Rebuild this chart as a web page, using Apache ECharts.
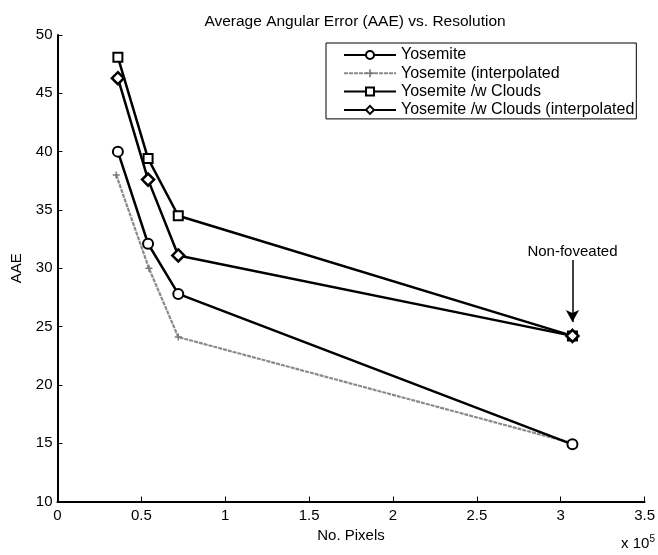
<!DOCTYPE html>
<html>
<head>
<meta charset="utf-8">
<script src="https://cdn.jsdelivr.net/npm/echarts@6/dist/echarts.min.js"></script>
<style>
  html, body { margin: 0; padding: 0; background: #fff; }
  #chart { width: 658px; height: 555px; }
</style>
</head>
<body>
<div id="chart"></div>
<script>
// pixel counts, in units of 10^5
const pixels = [0.36, 0.54, 0.72, 3.07]
const pixelsInterp = [0.35, 0.545, 0.72, 3.07]
const yosemite = [40.0, 32.1, 27.8, 14.9]
const yosemiteInterp = [38.0, 30.0, 24.1, 15.0]
const clouds = [48.1, 39.4, 34.5, 24.2]
const cloudsInterp = [46.3, 37.6, 31.1, 24.2]
const xTicks = [0, 0.5, 1, 1.5, 2, 2.5, 3, 3.5]
const yTicks = [10, 15, 20, 25, 30, 35, 40, 45, 50]
const names = ['Yosemite', 'Yosemite (interpolated', 'Yosemite /w Clouds', 'Yosemite /w Clouds (interpolated']
const arrowFrom = [3.07, 30.7]
const arrowTo = [3.07, 25.4]

const font = 'Liberation Sans, Arial, sans-serif'
const pair = (xs, ys) => xs.map((x, i) => [x, ys[i]])
const plusPath = 'path://M4,0H6V4H10V6H6V10H4V6H0V4H4Z'

const chart = echarts.init(document.getElementById('chart'))

chart.setOption({
  animation: false,
  textStyle: { fontFamily: font, color: '#000' },
  title: {
    text: 'Average Angular Error (AAE) vs. Resolution',
    left: 350, top: 9, textAlign: 'center',
    textStyle: { fontSize: 15.5, fontWeight: 'normal', color: '#000', fontFamily: font }
  },
  grid: { left: 57.5, right: 13, top: 35, bottom: 53.5 },
  legend: {
    orient: 'vertical',
    left: 326, top: 43,
    padding: [4, 2, 1, 17],
    itemGap: 2.3,
    itemWidth: 52, itemHeight: 10,
    borderColor: '#000', borderWidth: 1,
    backgroundColor: '#fff',
    textStyle: { fontSize: 16, lineHeight: 15, color: '#000', fontFamily: font },
    data: names
  },
  xAxis: {
    type: 'value', min: 0, max: 3.5, interval: 0.5,
    name: 'No. Pixels', nameLocation: 'middle', nameGap: 26,
    nameTextStyle: { fontSize: 15, color: '#000', fontFamily: font },
    axisLine: { lineStyle: { color: '#000', width: 2 } },
    axisTick: { inside: true, length: 5, lineStyle: { color: '#000' } },
    axisLabel: { fontSize: 15, color: '#000', margin: 7, formatter: v => xTicks.includes(v) ? String(v) : '' },
    splitLine: { show: false }
  },
  yAxis: {
    type: 'value', min: 10, max: 50, interval: 5,
    name: 'AAE', nameLocation: 'middle', nameGap: 33, nameRotate: 90,
    nameTextStyle: { fontSize: 15, color: '#000', fontFamily: font },
    axisLine: { show: true, lineStyle: { color: '#000', width: 2 } },
    axisTick: { show: true, inside: true, length: 5, lineStyle: { color: '#000' } },
    axisLabel: { fontSize: 15, color: '#000', margin: 5, formatter: v => yTicks.includes(v) ? String(v) : '' },
    splitLine: { show: false }
  },
  graphic: [{
    type: 'text', right: 3, bottom: 4,
    style: {
      text: 'x 10{s|5}',
      rich: { s: { fontSize: 10, verticalAlign: 'top', padding: [0, 0, 9, 0], fontFamily: font } },
      font: '15px ' + font, fill: '#000'
    }
  }],
  series: [{
    name: names[0], type: 'line', data: pair(pixels, yosemite),
    symbol: 'circle', symbolSize: 10, showAllSymbol: true,
    lineStyle: { color: '#000', width: 2.5 },
    itemStyle: { color: '#fff', borderColor: '#000', borderWidth: 2 },
    z: 3
  }, {
    name: names[1], type: 'line', data: pair(pixelsInterp, yosemiteInterp),
    symbol: plusPath, symbolSize: 7,
    lineStyle: { color: '#8a8a8a', width: 2.2, type: [4, 1] },
    itemStyle: { color: '#777', borderWidth: 0 },
    z: 2
  }, {
    name: names[2], type: 'line', data: pair(pixels, clouds),
    symbol: 'rect', symbolSize: 9,
    lineStyle: { color: '#000', width: 2.5 },
    itemStyle: { color: '#fff', borderColor: '#000', borderWidth: 2 },
    z: 3,
    markLine: {
      silent: true,
      symbol: ['none', 'arrow'], symbolSize: [10, 12],
      lineStyle: { color: '#000', width: 1.5, type: 'solid' },
      label: {
        show: true, position: 'start', formatter: 'Non-foveated',
        fontSize: 15, color: '#000', fontFamily: font, distance: 1
      },
      data: [[{ coord: arrowFrom }, { coord: arrowTo }]]
    }
  }, {
    name: names[3], type: 'line', data: pair(pixels, cloudsInterp),
    symbol: 'diamond', symbolSize: 12,
    lineStyle: { color: '#000', width: 2.5 },
    itemStyle: { color: '#fff', borderColor: '#000', borderWidth: 2.5 },
    z: 3
  }]
})
</script>
</body>
</html>
